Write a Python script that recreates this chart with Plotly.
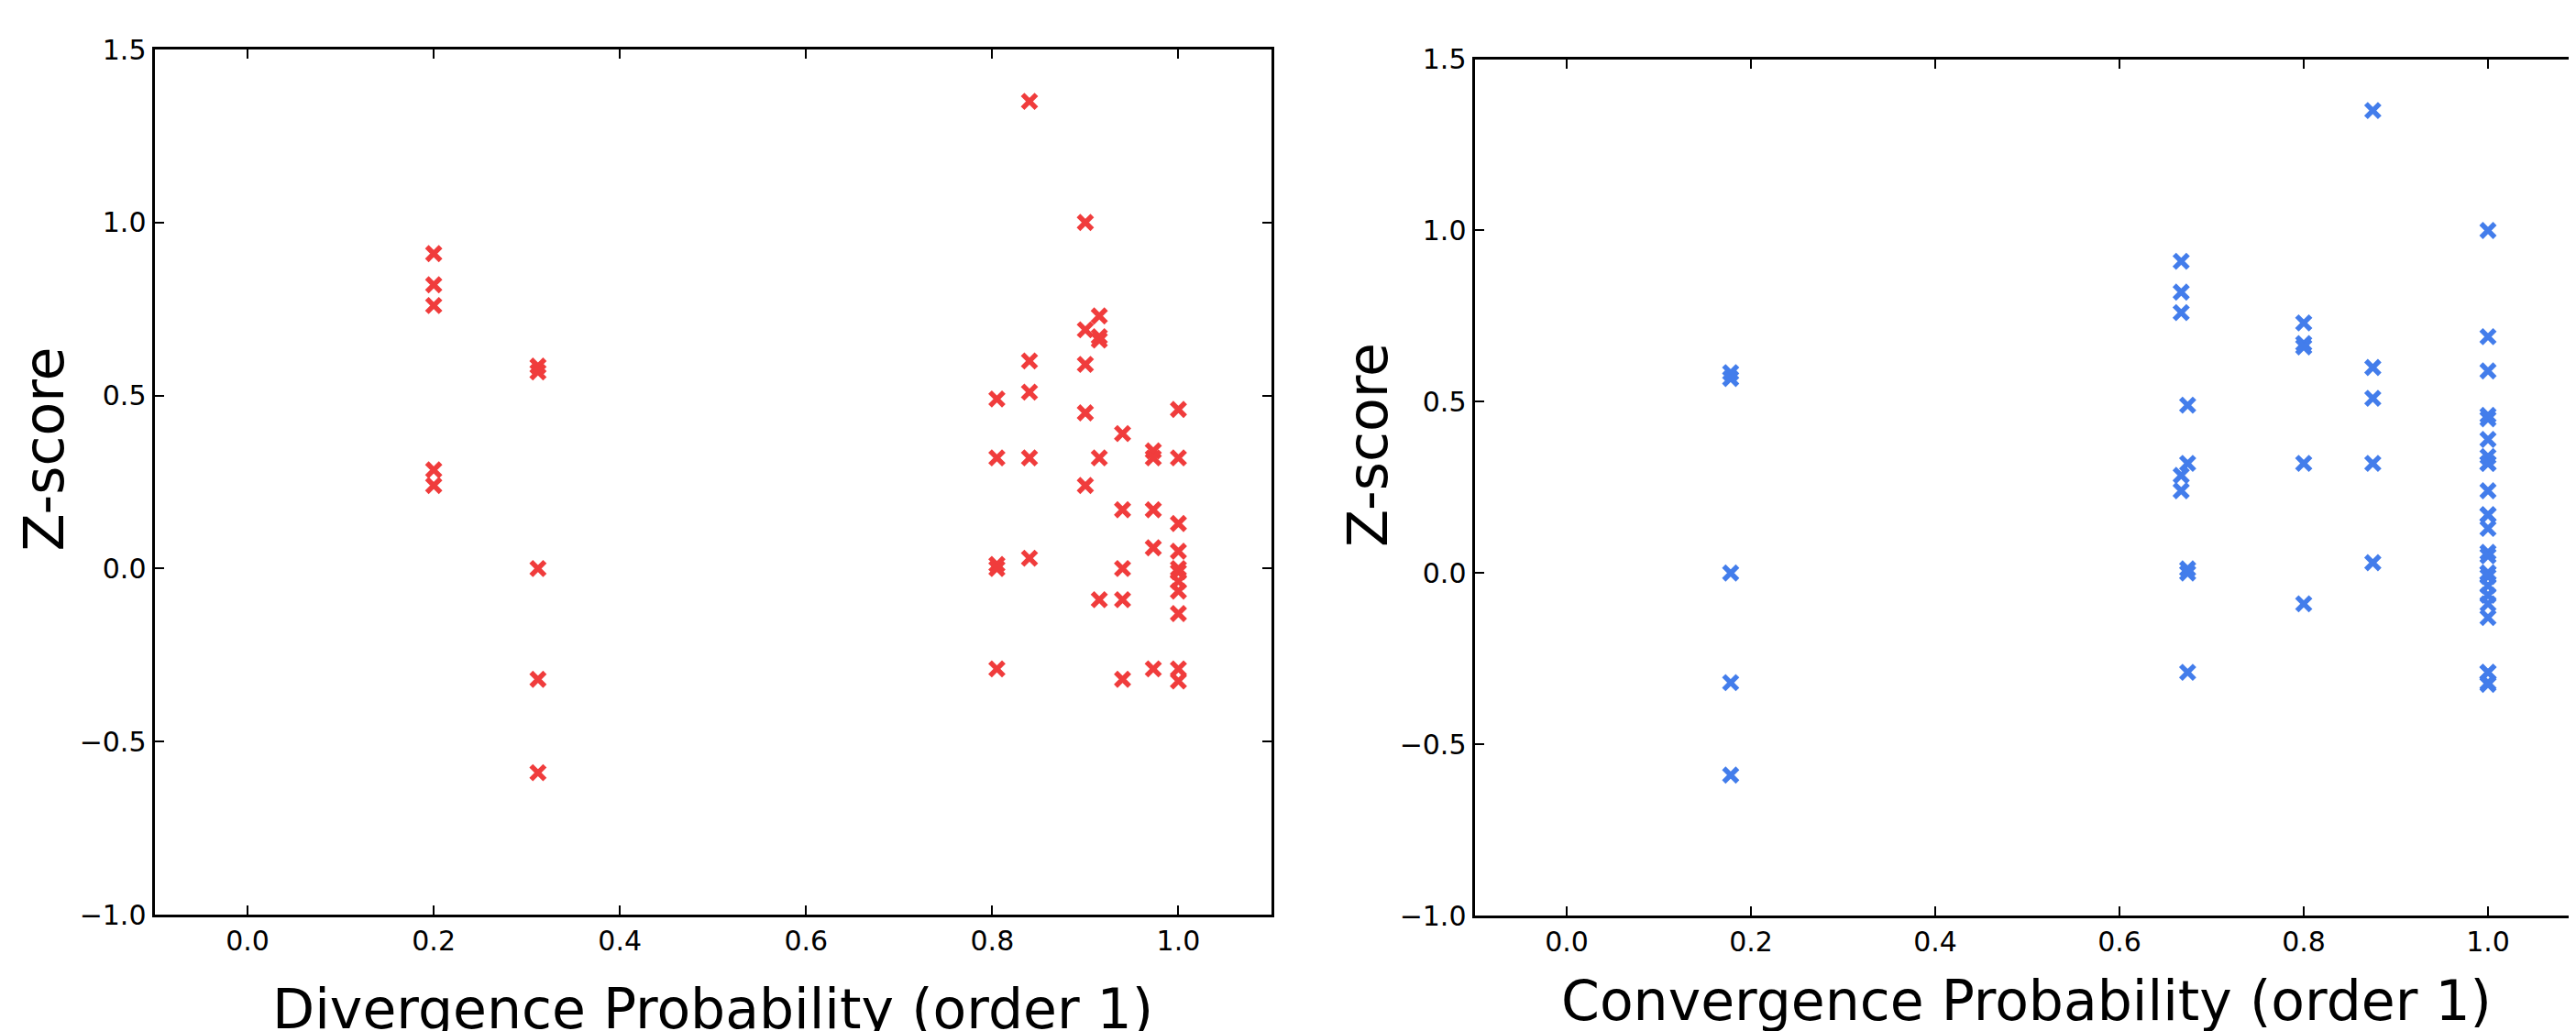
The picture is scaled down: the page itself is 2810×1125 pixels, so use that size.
import plotly.graph_objects as go

# ---- data ----
divergence_prob = [
    0.2, 0.2, 0.2, 0.2, 0.2,
    0.312, 0.312, 0.312, 0.312, 0.312,
    0.805, 0.805, 0.805, 0.805, 0.805,
    0.84, 0.84, 0.84, 0.84, 0.84,
    0.9, 0.9, 0.9, 0.9, 0.9,
    0.915, 0.915, 0.915, 0.915, 0.915,
    0.94, 0.94, 0.94, 0.94, 0.94,
    0.973, 0.973, 0.973, 0.973, 0.973,
    1.0, 1.0, 1.0, 1.0, 1.0, 1.0, 1.0, 1.0, 1.0, 1.0, 1.0,
]
convergence_prob = [
    0.667, 0.667, 0.667, 0.667, 0.667,
    0.178, 0.178, 0.178, 0.178, 0.178,
    0.674, 0.674, 0.674, 0.674, 0.674,
    0.875, 0.875, 0.875, 0.875, 0.875,
    1.0, 1.0, 1.0, 1.0, 1.0,
    0.8, 0.8, 0.8, 0.8, 0.8,
    1.0, 1.0, 1.0, 1.0, 1.0,
    1.0, 1.0, 1.0, 1.0, 1.0,
    1.0, 1.0, 1.0, 1.0, 1.0, 1.0, 1.0, 1.0, 1.0, 1.0, 1.0,
]
z_score = [
    0.91, 0.82, 0.76, 0.285, 0.24,
    0.585, 0.568, 0.0, -0.32, -0.59,
    0.49, 0.32, 0.012, 0.0, -0.29,
    1.35, 0.60, 0.51, 0.32, 0.03,
    1.0, 0.69, 0.59, 0.45, 0.24,
    0.73, 0.67, 0.66, 0.32, -0.09,
    0.39, 0.17, 0.0, -0.09, -0.32,
    0.34, 0.32, 0.17, 0.06, -0.29,
    0.46, 0.32, 0.13, 0.05, 0.0, -0.01, -0.037, -0.065, -0.13, -0.29, -0.325,
]
x_ticks = [0.0, 0.2, 0.4, 0.6, 0.8, 1.0]
y_ticks = [-1.0, -0.5, 0.0, 0.5, 1.0, 1.5]
left_xlabel = "Divergence Probability (order 1)"
right_xlabel = "Convergence Probability (order 1)"
ylabel = "Z-score"

RED = "#F03C3C"
BLUE = "#437DEB"
W, H = 2810, 1125
OFF = 8  # page body margin of the browser
FONT = "DejaVu Sans"


def px_x(v):
    return (v - OFF) / W


def px_y(v):
    return (H - (v - OFF)) / H


fig = go.Figure()
fig.add_trace(go.Scatter(
    x=divergence_prob, y=z_score, mode="markers", xaxis="x", yaxis="y",
    marker=dict(symbol="x-thin", size=15, line=dict(width=5.5, color=RED), color=RED),
    showlegend=False))
fig.add_trace(go.Scatter(
    x=convergence_prob, y=z_score, mode="markers", xaxis="x2", yaxis="y2",
    marker=dict(symbol="x-thin", size=15, line=dict(width=5.5, color=BLUE), color=BLUE),
    showlegend=False))

tickfont = dict(family=FONT, size=30, color="black")
common_x = dict(tickvals=x_ticks, tickformat=".1f", ticks="inside", ticklen=10, tickwidth=2,
                tickcolor="black", showgrid=False, zeroline=False, tickfont=tickfont,
                showline=True, linewidth=3, linecolor="black", mirror="ticks",
                automargin=False, range=[-0.1, 1.1])
common_y = dict(tickvals=y_ticks, tickformat=".1f", ticks="inside", ticklen=10, tickwidth=2,
                tickcolor="black", showgrid=False, zeroline=False, tickfont=tickfont,
                showline=True, linewidth=3, linecolor="black", mirror="ticks",
                automargin=False, range=[-1.0, 1.5])

fig.update_layout(
    width=W, height=H,
    margin=dict(l=0, r=0, t=0, b=0),
    paper_bgcolor="white", plot_bgcolor="white",
    xaxis=dict(domain=[px_x(168.5), px_x(1387)], anchor="y", **common_x),
    yaxis=dict(domain=[px_y(998), px_y(54)], anchor="x", **common_y),
    xaxis2=dict(domain=[px_x(1608.5), px_x(2814.5)], anchor="y2", **common_x),
    yaxis2=dict(domain=[px_y(999), px_y(64.6)], anchor="x2", **common_y),
)

labfont = dict(family=FONT, size=60, color="black")
fig.add_annotation(text=left_xlabel, xref="paper", yref="paper", x=px_x(777), y=px_y(1064),
                   xanchor="center", yanchor="top", showarrow=False, font=labfont)
fig.add_annotation(text=right_xlabel, xref="paper", yref="paper", x=px_x(2210), y=px_y(1055),
                   xanchor="center", yanchor="top", showarrow=False, font=labfont)
fig.add_annotation(text=ylabel, xref="paper", yref="paper", x=px_x(47.5), y=px_y(490),
                   xanchor="center", yanchor="middle", textangle=-90, showarrow=False, font=labfont)
fig.add_annotation(text=ylabel, xref="paper", yref="paper", x=px_x(1492), y=px_y(486),
                   xanchor="center", yanchor="middle", textangle=-90, showarrow=False, font=labfont)

fig.write_html("out.html")
